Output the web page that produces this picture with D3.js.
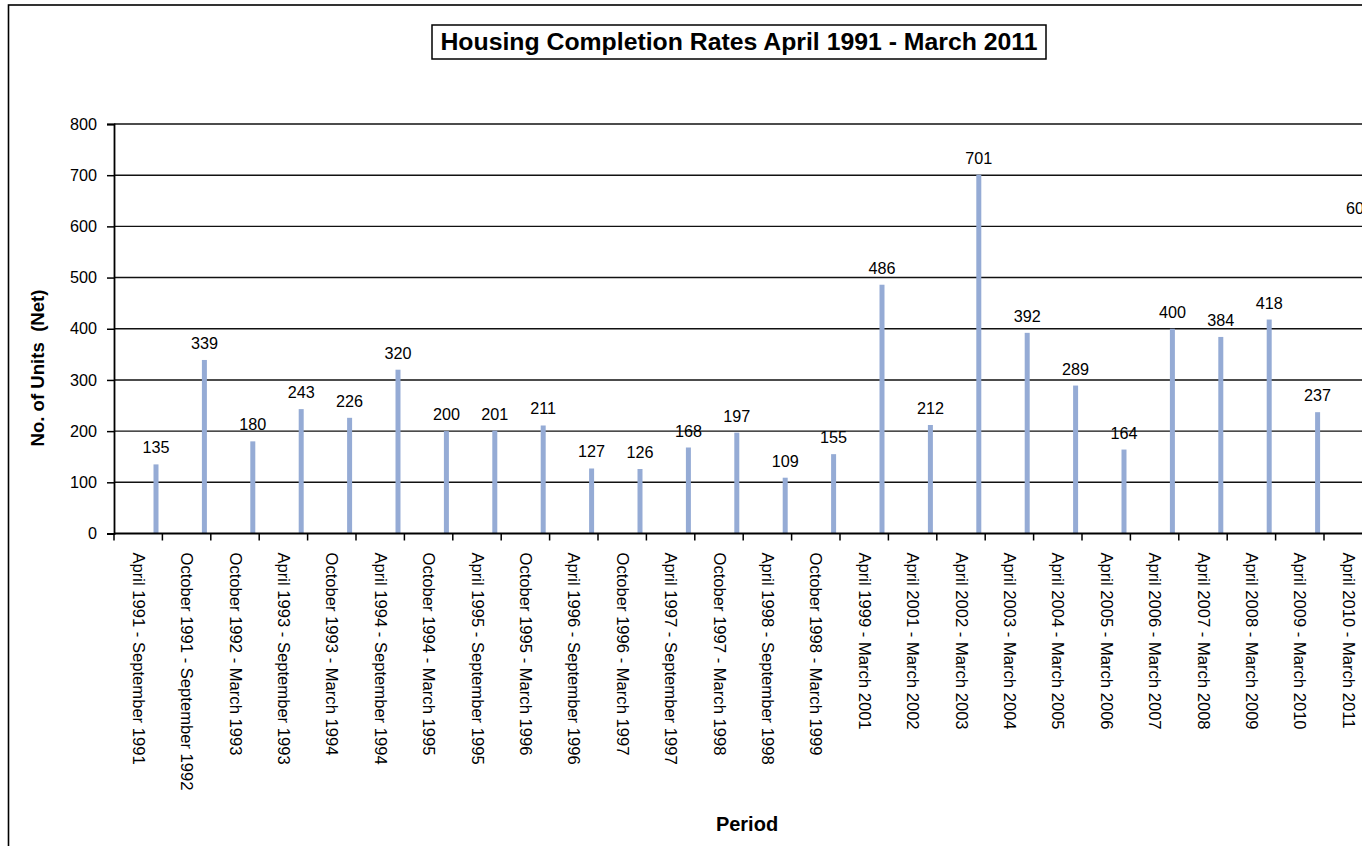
<!DOCTYPE html>
<html>
<head>
<meta charset="utf-8">
<script src="https://cdn.jsdelivr.net/npm/d3@7"></script>
<style>
  html, body { margin: 0; padding: 0; background: #fff; overflow: hidden; }
  svg { display: block; font-family: "Liberation Sans", Arial, sans-serif; }
</style>
</head>
<body>
<svg id="chart" width="1420" height="846"></svg>
<script>
const categories = [
  "April 1991 - September 1991",
  "October 1991 - September 1992",
  "October 1992 - March 1993",
  "April 1993 - September 1993",
  "October 1993 - March 1994",
  "April 1994 - September 1994",
  "October 1994 - March 1995",
  "April 1995 - September 1995",
  "October 1995 - March 1996",
  "April 1996 - September 1996",
  "October 1996 - March 1997",
  "April 1997 - September 1997",
  "October 1997 - March 1998",
  "April 1998 - September 1998",
  "October 1998 - March 1999",
  "April 1999 - March 2001",
  "April 2001 - March 2002",
  "April 2002 - March 2003",
  "April 2003 - March 2004",
  "April 2004 - March 2005",
  "April 2005 - March 2006",
  "April 2006 - March 2007",
  "April 2007 - March 2008",
  "April 2008 - March 2009",
  "April 2009 - March 2010",
  "April 2010 - March 2011"
];
const units = [135, 339, 180, 243, 226, 320, 200, 201, 211, 127, 126, 168, 197, 109, 155,
               486, 212, 701, 392, 289, 164, 400, 384, 418, 237, 603];
const yTicks = [0, 100, 200, 300, 400, 500, 600, 700, 800];
const titleText = "Housing Completion Rates April 1991 - March 2011";
const yTitle = "No. of Units\u00a0\u00a0(Net)";
const xTitle = "Period";

(function () {
const svg = d3.select("#chart");
const plotLeft = 114, plotTop = 124, plotBottom = 533.5, bandW = 48.4;
const chartRight = 1373; // right edge of the (cropped) chart area
const x = d3.scaleBand().domain(categories).range([plotLeft, plotLeft + bandW * categories.length]).padding(0);
const y = d3.scaleLinear().domain([0, 800]).range([plotBottom, plotTop]);

// outer chart border
svg.append("rect").attr("x", 8.5).attr("y", 5).attr("width", chartRight - 8.5).attr("height", 1000)
  .attr("fill", "none").attr("stroke", "#000").attr("stroke-width", 1.6);

// title
svg.append("rect").attr("x", 432).attr("y", 25).attr("width", 614).attr("height", 34)
  .attr("fill", "#fff").attr("stroke", "#000").attr("stroke-width", 1.5);
svg.append("text").attr("x", 739).attr("y", 49.5).attr("text-anchor", "middle")
  .attr("font-size", 24.8).attr("font-weight", "bold").text(titleText);

// gridlines
svg.append("g").selectAll("line").data(yTicks.filter(d => d > 0)).join("line")
  .attr("x1", plotLeft).attr("x2", 1420)
  .attr("y1", d => y(d)).attr("y2", d => y(d))
  .attr("stroke", "#111").attr("stroke-width", 1.4);

// bars
const barW = 5, barOff = 39.5;
svg.append("g").selectAll("rect").data(units).join("rect")
  .attr("x", (d, i) => x(categories[i]) + barOff)
  .attr("width", barW)
  .attr("y", d => y(d))
  .attr("height", d => y(0) - y(d))
  .attr("fill", "#95abd5");

// value labels (kept inside the chart area, as the spreadsheet does)
svg.append("g").selectAll("text").data(units).join("text")
  .attr("y", d => y(d) - 11)
  .attr("text-anchor", "middle")
  .attr("font-size", 16.2)
  .attr("fill", "#000")
  .text(d => d)
  .each(function (d, i) {
    const cx = x(categories[i]) + barOff + barW / 2;
    const w = this.getComputedTextLength();
    d3.select(this).attr("x", Math.min(cx, chartRight - w / 2));
  });

// y axis
const yAxis = svg.append("g").attr("transform", `translate(${plotLeft},0)`)
  .call(d3.axisLeft(y).tickValues(yTicks).tickSize(7).tickPadding(10).tickFormat(d3.format("d")));
yAxis.select(".domain").attr("stroke", "#000").attr("stroke-width", 1.8);
yAxis.selectAll(".tick line").attr("stroke", "#000").attr("stroke-width", 1.5);
yAxis.selectAll(".tick text").attr("font-size", 16.2).attr("fill", "#000")
  .attr("font-family", "'Liberation Sans', Arial, sans-serif");

// x axis (labels)
const xAxis = svg.append("g").attr("transform", `translate(0,${plotBottom})`)
  .call(d3.axisBottom(x).tickSize(0).tickPadding(0));
xAxis.select(".domain").remove();
xAxis.selectAll(".tick text")
  .attr("font-size", 16.6).attr("fill", "#000")
  .attr("font-family", "'Liberation Sans', Arial, sans-serif")
  .attr("text-anchor", "start")
  .attr("dy", null)
  .attr("y", 0)
  .attr("transform", "translate(0,19) rotate(90)")
  .attr("dominant-baseline", "central");

// x axis line and boundary ticks
svg.append("line").attr("x1", plotLeft).attr("x2", 1420).attr("y1", plotBottom).attr("y2", plotBottom)
  .attr("stroke", "#000").attr("stroke-width", 2);
const edges = categories.map(c => x(c)).concat([x(categories[categories.length - 1]) + x.bandwidth()]);
svg.append("g").selectAll("line").data(edges).join("line")
  .attr("x1", d => d).attr("x2", d => d)
  .attr("y1", plotBottom).attr("y2", plotBottom + 7)
  .attr("stroke", "#000").attr("stroke-width", 1.5);

// axis titles
svg.append("text").attr("transform", "translate(44,368) rotate(-90)")
  .attr("text-anchor", "middle").attr("font-size", 18.6).attr("font-weight", "bold")
  .text(yTitle);
svg.append("text").attr("x", 747).attr("y", 831).attr("text-anchor", "middle")
  .attr("font-size", 20).attr("font-weight", "bold").text(xTitle);
})();
</script>
</body>
</html>
